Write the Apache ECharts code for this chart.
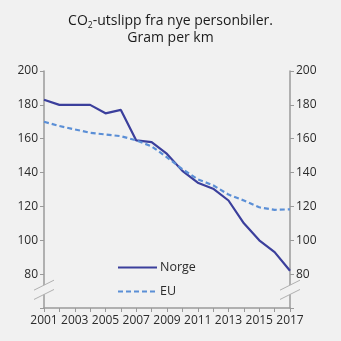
<!DOCTYPE html>
<html>
<head>
<meta charset="utf-8">
<script src="https://cdn.jsdelivr.net/npm/echarts@6/dist/echarts.min.js"></script>
<style>
  html, body { margin: 0; padding: 0; background: #f1f1f1; }
  #chart { width: 341px; height: 341px; }
</style>
</head>
<body>
<div id="chart"></div>
<script>
// Years and emissions (g CO2 per km) for new passenger cars
const years = ['2001','2002','2003','2004','2005','2006','2007','2008','2009',
               '2010','2011','2012','2013','2014','2015','2016','2017'];
const norge = [183, 180, 180, 180, 175, 177, 159, 158, 151, 141, 134, 130.5, 123.5, 110, 100, 93, 82];
const eu    = [170, 167.5, 165.5, 163.5, 162.5, 161.5, 159, 155.5, 149, 142, 136, 132.5, 127, 123.5, 119.5, 118, 118.3];
const yTicks = [80, 100, 120, 140, 160, 180, 200];

const bg = '#f1f1f1';
const axisGray = '#9a9a9a';
const textColor = '#2b2b2b';
const font = 'Open Sans';

const chart = echarts.init(document.getElementById('chart'), null, { renderer: 'canvas' });

const yAxisBase = {
  type: 'value', min: 60, max: 200, interval: 20,
  axisLine: { show: true, lineStyle: { color: axisGray, width: 1.5 } },
  axisTick: { show: true, length: 4, lineStyle: { color: axisGray } },
  splitLine: { show: false },
  axisLabel: {
    color: textColor, fontFamily: font, fontSize: 12, margin: 6,
    formatter: v => (yTicks.includes(v) ? String(v) : '')
  }
};

chart.setOption({
  backgroundColor: bg,
  animation: false,
  title: {
    text: '{a|CO}{s|2}{a|-utslipp fra nye personbiler.}\n{a|Gram per km}',
    left: 'center', top: 8,
    textStyle: {
      fontWeight: 'normal',
      rich: {
        a: { fontFamily: font, fontSize: 14, fontWeight: 'normal', color: '#1a1a1a', lineHeight: 17 },
        s: { fontFamily: font, fontSize: 8.5, fontWeight: 'normal', color: '#1a1a1a', verticalAlign: 'bottom', padding: [8, 0, 0, 0], lineHeight: 17 }
      }
    }
  },
  grid: { left: 44, right: 51, top: 71, bottom: 33, containLabel: false },
  legend: {
    orient: 'vertical', left: 112, top: 256, itemWidth: 39, itemHeight: 10, itemGap: 11,
    itemStyle: { opacity: 0 },
    textStyle: { fontFamily: font, fontSize: 12.5, color: textColor, padding: [0, 0, 0, -2] },
    data: ['Norge', 'EU']
  },
  xAxis: {
    type: 'category', data: years, boundaryGap: false,
    axisLine: { show: true, lineStyle: { color: axisGray, width: 1.5 } },
    axisTick: { show: true, interval: 0, length: 4, lineStyle: { color: axisGray } },
    axisLabel: { interval: 1, color: textColor, fontFamily: font, fontSize: 12, margin: 7 }
  },
  yAxis: [
    Object.assign({}, yAxisBase, { position: 'left' }),
    Object.assign({}, yAxisBase, { position: 'right' })
  ],
  series: [
    {
      name: 'Norge', type: 'line', data: norge, symbol: 'none', yAxisIndex: 0,
      lineStyle: { color: '#3b3f9c', width: 2.2 }, itemStyle: { color: '#3b3f9c' }
    },
    {
      name: 'EU', type: 'line', data: eu, symbol: 'none', yAxisIndex: 0,
      lineStyle: { color: '#5b8fd6', width: 2.2, type: [5, 3] }, itemStyle: { color: '#5b8fd6' }
    }
  ]
});

// Axis-break marks (double slash) on both vertical axes, placed just below 80
function drawBreaks() {
  const yTop = chart.convertToPixel({ yAxisIndex: 0 }, 73.5);
  const yBot = chart.convertToPixel({ yAxisIndex: 0 }, 68);
  const xl = chart.convertToPixel({ xAxisIndex: 0 }, years[0]);
  const xr = chart.convertToPixel({ xAxisIndex: 0 }, years[years.length - 1]);
  const els = [];
  [xl, xr].forEach(x => {
    const dx = 10, rise = 5;
    els.push({
      type: 'polygon', z: 100,
      shape: { points: [[x - dx, yTop + rise], [x + dx, yTop - rise], [x + dx, yBot - rise], [x - dx, yBot + rise]] },
      style: { fill: bg }
    });
    [yTop, yBot].forEach(y => {
      els.push({
        type: 'line', z: 101,
        shape: { x1: x - dx, y1: y + rise, x2: x + dx, y2: y - rise },
        style: { stroke: '#b0b0b0', lineWidth: 1 }
      });
    });
  });
  chart.setOption({ graphic: els });
}
drawBreaks();
</script>
</body>
</html>
